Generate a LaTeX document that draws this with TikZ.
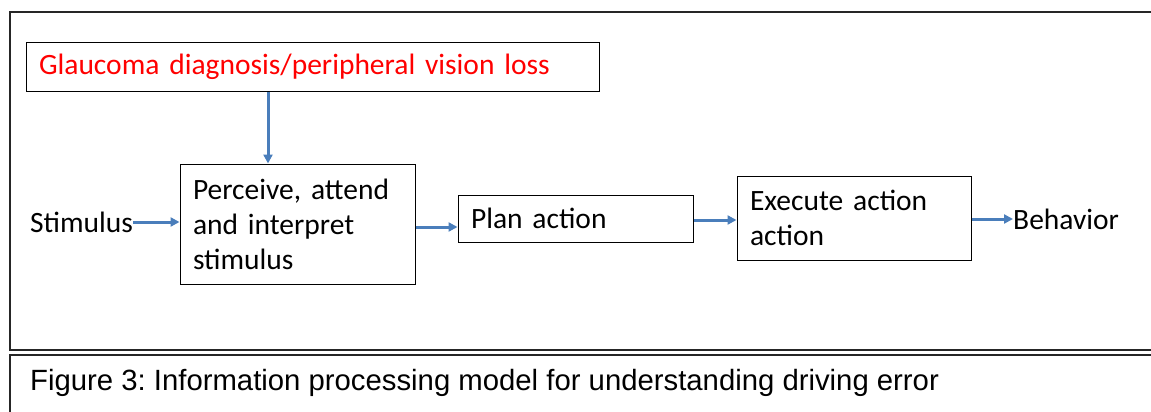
\documentclass[tikz,border=0pt]{standalone}
\usepackage{fontspec}
\setmainfont{Carlito}
\newfontfamily\captionfont{Liberation Sans}
\usetikzlibrary{positioning,arrows.meta}
\frenchspacing
\definecolor{flowblue}{RGB}{74,126,187}
\definecolor{glred}{RGB}{255,0,0}
\tikzset{
  stage/.style={draw, line width=1pt, inner xsep=13pt, inner ysep=0pt, align=left, font=\fontsize{29.5}{35}\selectfont},
  flow/.style={draw=flowblue, line width=3pt, -{Triangle[length=9pt,width=9pt]}},
  frame/.style={draw=black!85, line width=1.5pt},
}

\begin{document}
\begin{tikzpicture}[x=1pt, y=-1pt]
  \useasboundingbox (0,0) rectangle (1151,412);
  % frames
  \draw[frame] (10,12) rectangle (1170,350);
  \draw[frame] (10,355) rectangle (1170,430);

  \node[stage, text=glred, minimum width=573pt, minimum height=48pt, text width=547pt] (glaucoma) at (312.5,67) {Glaucoma diagnosis/peripheral vision loss};
  \node[stage, minimum width=235pt, minimum height=120pt, text width=209pt] (perceive) at (297.5,224) {Perceive, attend\\and interpret\\stimulus};
  \node[stage, minimum width=235pt, minimum height=47pt, text width=209pt, right=42pt of perceive, yshift=5.5pt] (plan) {Plan action};
  \node[stage, minimum width=234pt, minimum height=84pt, text width=208pt, right=43pt of plan, yshift=0.5pt] (execute) {Execute action\\action};
  \node[font=\fontsize{29.5}{35}\selectfont, inner sep=0pt, anchor=west] (stimulus) at (30,222) {Stimulus};
  \node[font=\fontsize{29.5}{35}\selectfont, inner sep=0pt, anchor=west] (behavior) at (1013,219) {Behavior};

  \node[font=\captionfont\fontsize{29.3}{34}\selectfont, inner sep=0pt, anchor=west] (caption) at (30,383) {Figure 3: Information processing model for understanding driving error};

  % arrows
  \draw[flow] (stimulus.east) -- (stimulus.east -| perceive.west);
  \draw[flow] ([yshift=-3pt]perceive.east) -- ([yshift=-3pt]perceive.east -| plan.west);
  \draw[flow] ([yshift=-1.5pt]plan.east) -- ([yshift=-1.5pt]plan.east -| execute.west);
  \draw[flow] ([yshift=-1pt]execute.east) -- ([yshift=-1pt]execute.east -| behavior.west);
  \draw[flow] ([xshift=-29.5pt]perceive.north |- glaucoma.south) -- ([xshift=-29.5pt]perceive.north);
\end{tikzpicture}
\end{document}
